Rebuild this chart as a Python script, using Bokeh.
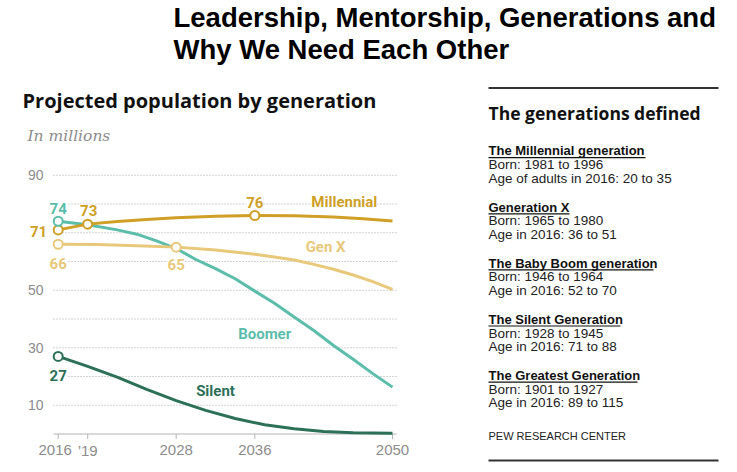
from bokeh.plotting import figure
from bokeh.models import Range1d, Label
from bokeh.core.properties import value
from bokeh.embed import file_html
from bokeh.resources import INLINE

# ---------------- data ----------------
millennial_years = [2016, 2019, 2022, 2025, 2028, 2032, 2036, 2040, 2044, 2047, 2050]
millennial_values = [71, 73, 73.9, 74.6, 75.2, 75.7, 76, 75.9, 75.5, 74.9, 74.1]

genx_years = [2016, 2020, 2024, 2028, 2032, 2036, 2038, 2040, 2042, 2044, 2046, 2048, 2050]
genx_values = [66, 65.9, 65.5, 65, 64, 62.5, 61.6, 60.5, 59, 57.3, 55.3, 53, 50.3]

boomer_years = [2016, 2019, 2022, 2024, 2026, 2028, 2030, 2032, 2034, 2036, 2038,
                2040, 2042, 2044, 2046, 2048, 2050]
boomer_values = [74, 72.8, 71, 69.5, 67.2, 64.5, 60.7, 57.5, 54, 49.7, 45.5,
                 40.7, 36, 30.8, 26, 21, 16.3]

silent_years = [2016, 2019, 2022, 2025, 2028, 2031, 2034, 2037, 2040, 2043, 2046, 2050]
silent_values = [27, 23.5, 19.8, 15.5, 11.6, 8.2, 5.4, 3.2, 1.8, 0.9, 0.4, 0.3]

millennial_marked = [2016, 2019, 2036]
genx_marked = [2016, 2028]
boomer_marked = [2016]
silent_marked = [2016]

x_ticks = [2016, 2019, 2028, 2036, 2050]
x_tick_labels = ["2016", "\u201919", "2028", "2036", "2050"]
y_ticks = [10, 20, 30, 40, 50, 60, 70, 80, 90]
y_tick_labels = ["10", "", "30", "", "50", "", "", "", "90"]

series_names = ["Millennial", "Gen X", "Boomer", "Silent"]

gen_headings = ["The Millennial generation", "Generation X", "The Baby Boom generation",
                "The Silent Generation", "The Greatest Generation"]
gen_born = ["Born: 1981 to 1996", "Born: 1965 to 1980", "Born: 1946 to 1964",
            "Born: 1928 to 1945", "Born: 1901 to 1927"]
gen_age = ["Age of adults in 2016: 20 to 35", "Age in 2016: 36 to 51", "Age in 2016: 52 to 70",
           "Age in 2016: 71 to 88", "Age in 2016: 89 to 115"]

title_lines = ["Leadership, Mentorship, Generations and", "Why We Need Each Other"]
chart_title = "Projected population by generation"
chart_subtitle = "In millions"
panel_title = "The generations defined"
source_note = "PEW RESEARCH CENTER"

# ---------------- styles / layout ----------------
C_MIL = "#cf9f27"
C_GENX = "#e8c87a"
C_BOOM = "#5bbdaa"
C_SIL = "#2c7058"
GRAY = "#8c8c8c"
AXIS_GRAY = "#b5b5b5"
BOLD_FONT = "Roboto"
HEAD_FONT = "Open Sans"
BODY_FONT = "Liberation Sans"

W, H = 737, 472
PX_PER_YEAR = 9.832
PX_PER_UNIT = 2.875
X2016_PX = 57.7           # canvas x of year 2016
Y0_PX = 433.5             # canvas y of value 0 (axis line)
CHART_L, CHART_R = 53, 396
x_tick_label_shift = [-3, 0, 0, 0, 0]

x_start = 2016 - X2016_PX / PX_PER_YEAR
y_start = -(H - Y0_PX) / PX_PER_UNIT

p = figure(width=W, height=H, output_backend="svg", toolbar_location=None,
           x_range=Range1d(x_start, x_start + W / PX_PER_YEAR),
           y_range=Range1d(y_start, y_start + H / PX_PER_UNIT),
           x_axis_location=None, y_axis_location=None,
           min_border_left=0, min_border_right=0,
           min_border_top=0, min_border_bottom=0)
p.extra_x_ranges = {"px": Range1d(0, W)}
p.extra_y_ranges = {"py": Range1d(H, 0)}
p.outline_line_color = None
p.background_fill_color = "white"
p.border_fill_color = "white"
p.grid.visible = False

# ---- axes drawn with the chart scales ----
p.segment(x0=CHART_L, x1=CHART_R, y0=y_ticks, y1=y_ticks, x_range_name="px",
          line_color="#a8a8a8", line_dash="1 2", line_width=1)
p.text(x=CHART_L - 10, y=y_ticks, text=y_tick_labels, x_range_name="px",
       text_align="right", text_baseline="middle", text_color=GRAY,
       text_font=value(BODY_FONT), text_font_size="14px")
p.segment(x0=CHART_L, x1=CHART_R, y0=0, y1=0, x_range_name="px",
          line_color=AXIS_GRAY, line_width=1)
p.segment(x0=x_ticks, x1=x_ticks, y0=Y0_PX, y1=Y0_PX + 5, y_range_name="py",
          line_color=AXIS_GRAY, line_width=1)
p.text(x=x_ticks, y=Y0_PX + 16, text=x_tick_labels, y_range_name="py",
       x_offset=x_tick_label_shift,
       text_align="center", text_baseline="middle", text_color=GRAY,
       text_font=value(BODY_FONT), text_font_size="15px")

series = [
    (millennial_years, millennial_values, millennial_marked, C_MIL),
    (genx_years, genx_values, genx_marked, C_GENX),
    (boomer_years, boomer_values, boomer_marked, C_BOOM),
    (silent_years, silent_values, silent_marked, C_SIL),
]

for yrs, vals, _, col in reversed(series):
    p.line(yrs, vals, line_color=col, line_width=3)

for yrs, vals, marked, col in series:
    lookup = dict(zip(yrs, vals))
    mv = [lookup[y] for y in marked]
    p.scatter(marked, mv, size=9, fill_color="white", line_color=col, line_width=2)

value_label_style = {
    (0, 0): ("right", -11, -2),
    (0, 1): ("center", 1, 14),
    (0, 2): ("center", 0, 13),
    (1, 0): ("center", 0, -19),
    (1, 1): ("center", 0, -17),
    (2, 0): ("center", 0, 13),
    (3, 0): ("center", 0, -19),
}
for si, (yrs, vals, marked, col) in enumerate(series):
    lookup = dict(zip(yrs, vals))
    for mi, yr in enumerate(marked):
        align, xo, yo = value_label_style[(si, mi)]
        v = lookup[yr]
        p.add_layout(Label(x=yr, y=v, text=str(int(round(v))), text_align=align,
                           text_baseline="middle", x_offset=xo, y_offset=yo,
                           text_font=BOLD_FONT, text_font_style="bold", text_font_size="15px",
                           text_color=col, background_fill_color="white",
                           background_fill_alpha=1.0))

name_positions = [(2045.1, 80.7), (2043.2, 64.9), (2037.0, 34.8), (2032.0, 15.0)]
for (nx, ny), name, (_, _, _, col) in zip(name_positions, series_names, series):
    p.add_layout(Label(x=nx, y=ny, text=name, text_align="center", text_baseline="middle",
                       text_font=BOLD_FONT, text_font_style="bold", text_font_size="15px",
                       text_color=col, background_fill_color="white",
                       background_fill_alpha=1.0))


def canvas_text(x, y, text, size, color="#000", font=BODY_FONT, style="normal"):
    p.add_layout(Label(x=x, y=y, text=text, x_range_name="px", y_range_name="py",
                       text_align="left", text_baseline="middle",
                       text_font=font, text_font_size=size, text_font_style=style,
                       text_color=color))


def canvas_rule(x0, x1, y, width, color):
    p.segment(x0=x0, x1=x1, y0=y, y1=y, x_range_name="px", y_range_name="py",
              line_color=color, line_width=width)


# main title
canvas_text(173, 17, title_lines[0], "27.5px", "#000", "Liberation Sans", "bold")
canvas_text(173, 49, title_lines[1], "27.5px", "#000", "Liberation Sans", "bold")

# chart title & subtitle
canvas_text(22, 99.7, chart_title, "20px", "#111", HEAD_FONT, "bold")
canvas_text(27, 135, chart_subtitle, "15.5px", GRAY, "DejaVu Serif", "italic")

# right panel
PX = 488
canvas_rule(PX, 718, 87.5, 2, "#333")
canvas_text(PX, 112, panel_title, "17.5px", "#111", HEAD_FONT, "bold")
underline_widths = [157, 81, 165, 132, 149]
for i, (hd, bn, ag) in enumerate(zip(gen_headings, gen_born, gen_age)):
    yc = 150.4 + i * 56.1
    canvas_text(PX, yc, hd, "13px", "#111", BODY_FONT, "bold")
    canvas_rule(PX, PX + underline_widths[i], yc + 6.8, 1.2, "#111")
    canvas_text(PX, yc + 13.8, bn, "13.5px", "#222")
    canvas_text(PX, yc + 27.6, ag, "13.5px", "#222")
canvas_text(PX, 435, source_note, "11px", "#222")
canvas_rule(PX, 718, 460, 2, "#333")

open("out.html", "w").write(file_html(p, INLINE))
